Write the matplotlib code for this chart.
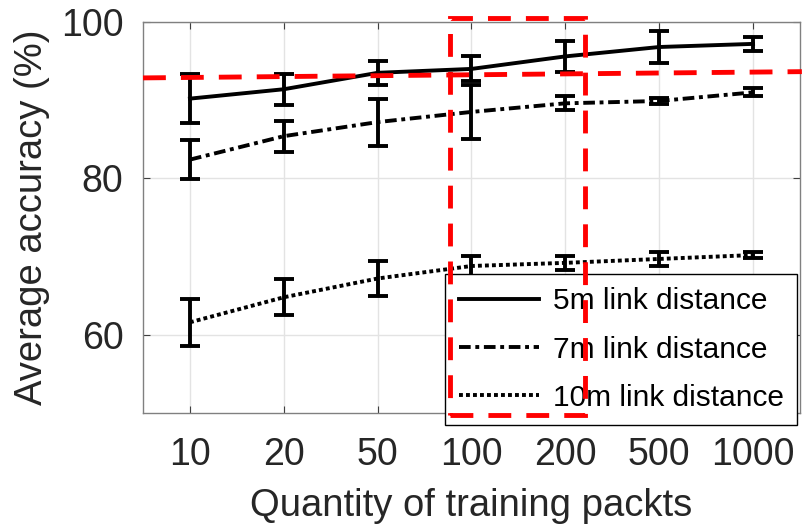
import numpy as np
import matplotlib
matplotlib.use("Agg")
import matplotlib.pyplot as plt
from matplotlib.patches import Rectangle

plt.rcParams['font.family'] = ['Liberation Sans', 'DejaVu Sans']

# Data
#-----------------------------------
packets = ['10', '20', '50', '100', '200', '500', '1000']

acc_5m = [90.2, 91.4, 93.5, 94.0, 95.6, 96.8, 97.2]
err_5m = [3.1, 2.0, 1.5, 1.6, 2.0, 2.0, 0.9]

acc_7m = [82.4, 85.4, 87.2, 88.5, 89.6, 89.9, 91.0]
err_7m = [2.5, 2.0, 3.0, 3.5, 0.9, 0.4, 0.5]

acc_10m = [61.6, 64.8, 67.2, 68.8, 69.2, 69.7, 70.2]
err_10m = [3.0, 2.3, 2.2, 1.3, 0.9, 0.9, 0.4]

labels = ['5m link distance', '7m link distance', '10m link distance']

# red highlight marks (data units)
ref_line_x = [0.5, 7.52]
ref_line_y = [92.85, 93.65]
box_x = [3.77, 5.21]
box_y = [49.8, 100.5]

# Plot
#-----------------------------------
fig = plt.figure(figsize=(8.02, 5.31), dpi=100)
ax = fig.add_axes([0.1783, 0.2222, 0.8192, 0.7364])

x = np.arange(1, len(packets) + 1)
styles = ['-', (0, (3, 1.2, 1, 1.2)), (0, (1, 0.8))]
series = [(acc_5m, err_5m), (acc_7m, err_7m), (acc_10m, err_10m)]

handles = []
for (acc, err), ls, lab in zip(series, styles, labels):
    ax.errorbar(x, acc, yerr=err, fmt='none', ecolor='black', elinewidth=2.8,
                capsize=7, capthick=2.8, zorder=3)
    line, = ax.plot(x, acc, color='black', linestyle=ls, linewidth=2.8,
                    label=lab, zorder=4)
    handles.append(line)

ax.set_xlim(0.5, 7.5)
ax.set_ylim(50, 100)
ax.set_xticks(x)
ax.set_xticklabels(packets)
ax.set_yticks([60, 80, 100])

ax.grid(True, color='#e3e3e3', linewidth=1)
ax.set_axisbelow(True)
ax.tick_params(direction='in', length=5, width=0.8, color='#404040',
               top=True, right=True, labelsize=27, labelcolor='#262626')
ax.tick_params(axis='x', pad=17)
ax.tick_params(axis='y', pad=14)
for s in ax.spines.values():
    s.set_color('#808080')
    s.set_linewidth(1)

ax.set_xlabel('Quantity of training packts', fontsize=27.5, color='#262626', labelpad=11)
ax.set_ylabel('Average accuracy (%)', fontsize=27.5, color='#262626', labelpad=8)

leg = ax.legend(handles=handles, loc='upper left', bbox_to_anchor=(0.46, 0.356),
                borderaxespad=0, fontsize=21.5, frameon=True, fancybox=False,
                edgecolor='black', framealpha=1, handlelength=2.7,
                handletextpad=0.45, labelspacing=0.68, borderpad=0.45)
leg.get_frame().set_linewidth(1)

# red dashed highlight
ax.plot(ref_line_x, ref_line_y, color='red', linewidth=3.5,
        linestyle=(0, (4.7, 3.1)), clip_on=False, zorder=10)
ax.add_patch(Rectangle((box_x[0], box_y[0]), box_x[1] - box_x[0], box_y[1] - box_y[0],
                       fill=False, edgecolor='red', linewidth=3.5,
                       linestyle=(0, (4.7, 3.1)), clip_on=False, zorder=10))

fig.savefig('out.png', dpi=100)
